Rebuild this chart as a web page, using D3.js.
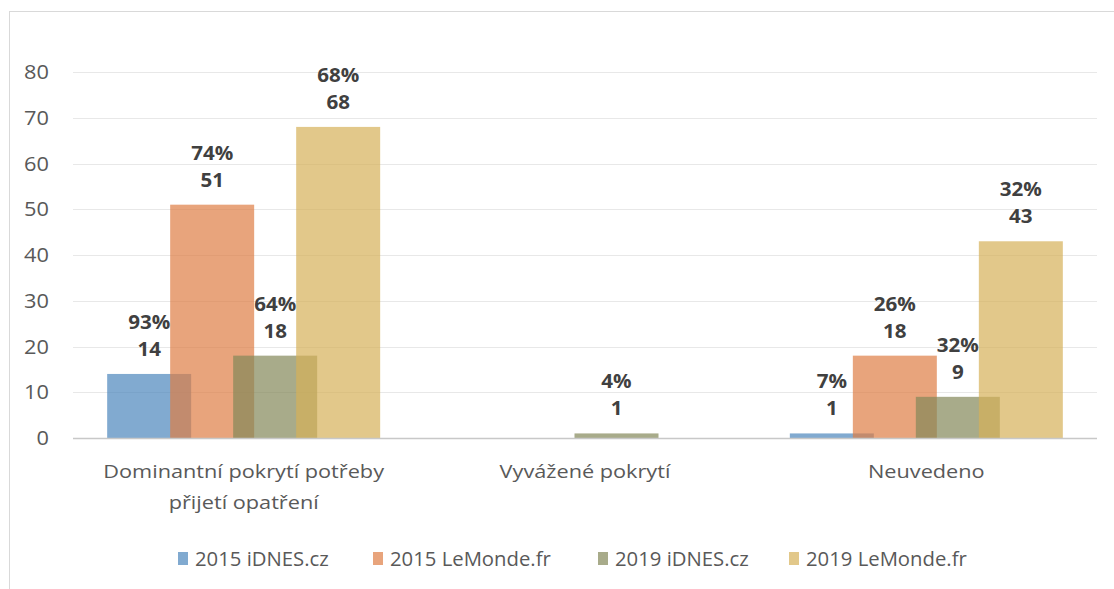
<!DOCTYPE html>
<html>
<head>
<meta charset="utf-8">
<script src="https://cdn.jsdelivr.net/npm/d3@7"></script>
<style>
  body { margin: 0; background: #fff; }
  svg text { font-family: "Open Sans", "Noto Sans", sans-serif; }
</style>
</head>
<body>
<div id="chart"></div>
<script>
const categories = ['Dominantní pokrytí potřeby|přijetí opatření', 'Vyvážené pokrytí', 'Neuvedeno'];
const seriesNames = ['2015 iDNES.cz', '2015 LeMonde.fr', '2019 iDNES.cz', '2019 LeMonde.fr'];
const counts2015Idnes = [14, 0, 1];
const counts2015LeMonde = [51, 0, 18];
const counts2019Idnes = [18, 1, 9];
const counts2019LeMonde = [68, 0, 43];
const pct2015Idnes = ['93%', '', '7%'];
const pct2015LeMonde = ['74%', '', '26%'];
const pct2019Idnes = ['64%', '4%', '32%'];
const pct2019LeMonde = ['68%', '', '32%'];
const yTicks = [0, 10, 20, 30, 40, 50, 60, 70, 80];
const colors = ['#4c86bc', '#de7d44', '#838858', '#d6b158'];

const seriesCounts = [counts2015Idnes, counts2015LeMonde, counts2019Idnes, counts2019LeMonde];
const seriesPct = [pct2015Idnes, pct2015LeMonde, pct2019Idnes, pct2019LeMonde];

const width = 1114, height = 589;
const svg = d3.select('#chart').append('svg')
  .attr('width', width)
  .attr('height', height);

// outer chart frame (runs off the right/bottom edge)
svg.append('rect')
  .attr('x', 9.5).attr('y', 11.5)
  .attr('width', 1200).attr('height', 700)
  .attr('fill', 'none')
  .attr('stroke', '#d9d9d9');

const xScale = d3.scaleBand().domain(categories).range([73, 1097]);
const yScale = d3.scaleLinear().domain([0, 80]).range([438, 72]);
const barWidth = 84;
const offset = d3.scalePoint().domain(seriesNames).range([-94.5, 94.5]);

// text that is a bit wider than Open Sans draws it (the source font is wide)
function wideText(parent, x, y, str, opts) {
  const g = parent.append('g').attr('transform', `translate(${x},${y})`);
  return g.append('text')
    .attr('transform', `scale(${opts.sx},1)`)
    .attr('text-anchor', opts.anchor || 'middle')
    .attr('font-size', opts.size)
    .attr('font-weight', opts.weight || 'normal')
    .attr('fill', opts.fill)
    .text(str);
}

// grid lines
svg.selectAll('.grid-line')
  .data(yTicks.filter(d => d > 0))
  .enter().append('line')
  .attr('class', 'grid-line')
  .attr('x1', 73).attr('x2', 1097)
  .attr('y1', d => Math.round(yScale(d)) + 0.5)
  .attr('y2', d => Math.round(yScale(d)) + 0.5)
  .attr('stroke', '#e8e8e8')
  .attr('stroke-width', 1.2);

// y tick labels
yTicks.forEach(t => {
  wideText(svg, 49, yScale(t) + 7, t, { sx: 1.09, size: 20, anchor: 'end', fill: '#595959' });
});

const rows = [];
seriesNames.forEach((s, si) => {
  categories.forEach((c, ci) => {
    rows.push({ series: s, si: si, cat: c, value: seriesCounts[si][ci], pct: seriesPct[si][ci] });
  });
});

const barX = d => xScale(d.cat) + xScale.bandwidth() / 2 + offset(d.series) - barWidth / 2;

svg.selectAll('.bar')
  .data(rows.filter(d => d.value > 0))
  .enter().append('rect')
  .attr('class', 'bar')
  .attr('x', barX)
  .attr('y', d => yScale(d.value))
  .attr('width', barWidth)
  .attr('height', d => yScale(0) - yScale(d.value))
  .attr('fill', d => colors[d.si])
  .attr('fill-opacity', 0.7);

// base line
svg.append('line')
  .attr('x1', 73).attr('x2', 1097)
  .attr('y1', 438.5).attr('y2', 438.5)
  .attr('stroke', '#c8c8c8')
  .attr('stroke-width', 1.5);

// data labels: percent on top, count below
rows.filter(d => d.value > 0).forEach(d => {
  const cx = barX(d) + barWidth / 2;
  const top = yScale(d.value);
  const lab = { sx: 1.1, size: 18.7, weight: 'bold', fill: '#404040' };
  wideText(svg, cx, top - 45, d.pct, lab);
  wideText(svg, cx, top - 18, d.value, lab);
});

// category labels
categories.forEach(c => {
  c.split('|').forEach((l, i) => {
    wideText(svg, xScale(c) + xScale.bandwidth() / 2, 478 + i * 31, l,
      { sx: 1.16, size: 18.7, fill: '#595959' });
  });
});

// legend
const legendX = [178, 373, 598, 789];
seriesNames.forEach((s, i) => {
  svg.append('rect')
    .attr('x', legendX[i]).attr('y', 552)
    .attr('width', 10).attr('height', 13)
    .attr('fill', colors[i])
    .attr('fill-opacity', 0.7);
  svg.append('text')
    .attr('x', legendX[i] + 17).attr('y', 566)
    .attr('font-family', 'Roboto, sans-serif')
    .attr('font-size', 20.3)
    .attr('fill', '#595959')
    .text(s);
});
</script>
</body>
</html>
